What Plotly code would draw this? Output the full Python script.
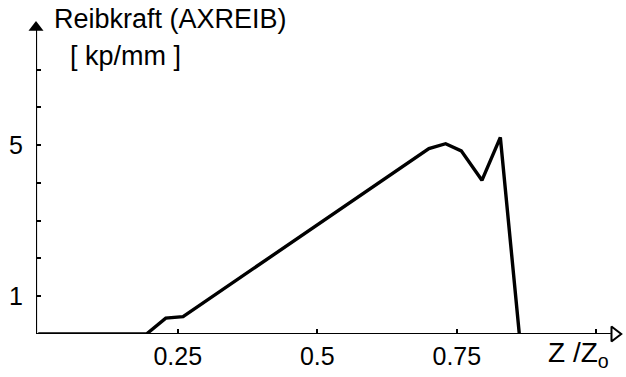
import plotly.graph_objects as go

# Data
z_ratio = [0.0, 0.194, 0.2285, 0.2595, 0.700, 0.730, 0.758, 0.795, 0.828, 0.862]
reibkraft = [0.0, 0.0, 0.42, 0.46, 4.91, 5.04, 4.85, 4.07, 5.21, 0.0]

x_tickvals = [0.25, 0.5, 0.75]
x_ticktext = ["0.25", "0.5", "0.75"]
x_minor_ticks = [0.25, 0.5, 0.75, 1.0]
y_tickvals = [1, 5]
y_ticktext = ["1", "5"]
y_minor_ticks = [1, 2, 3, 4, 5, 6, 7]

FONT = "Liberation Sans"
XMIN, XMAX = -0.004, 1.046
YMIN, YMAX = 0.0, 8.37

fig = go.Figure()
fig.add_trace(go.Scatter(
    x=z_ratio, y=reibkraft, mode="lines",
    line=dict(color="black", width=3.4), hoverinfo="skip", showlegend=False,
))

# Axis arrowheads
fig.add_trace(go.Scatter(
    x=[XMIN], y=[YMAX - 0.25], mode="markers", cliponaxis=False,
    marker=dict(symbol="triangle-up", size=13, color="black"),
    hoverinfo="skip", showlegend=False,
))
fig.add_trace(go.Scatter(
    x=[XMAX - 0.013], y=[0], mode="markers", cliponaxis=False,
    marker=dict(symbol="triangle-right", size=13, color="white",
                line=dict(color="black", width=2)),
    hoverinfo="skip", showlegend=False,
))

fig.update_layout(
    width=626, height=377,
    margin=dict(l=36, r=4, t=18, b=43),
    paper_bgcolor="white", plot_bgcolor="white",
    font=dict(family=FONT, color="black", size=25),
    xaxis=dict(
        range=[XMIN, XMAX], showgrid=False, zeroline=False,
        showline=False, ticks="inside", ticklen=5, tickwidth=1.5, tickcolor="black",
        tickvals=x_tickvals, ticktext=x_ticktext, ticklabelstandoff=5,
        tickfont=dict(size=25, family=FONT),
        minor=dict(tickvals=x_minor_ticks, ticks="inside", ticklen=5, tickwidth=1.5,
                   tickcolor="black", showgrid=False),
    ),
    yaxis=dict(
        range=[YMIN, YMAX], showgrid=False, zeroline=False,
        showline=False, ticks="inside", ticklen=5, tickwidth=1.5, tickcolor="black",
        tickvals=y_tickvals, ticktext=y_ticktext, ticklabelstandoff=12,
        tickfont=dict(size=25, family=FONT),
        minor=dict(tickvals=y_minor_ticks, ticks="inside", ticklen=5, tickwidth=1.5,
                   tickcolor="black", showgrid=False),
    ),
)

# Axes lines
fig.add_shape(type="line", xref="x", yref="y", x0=XMIN, y0=0, x1=XMAX - 0.02, y1=0,
              line=dict(color="black", width=2.2), layer="below")
fig.add_shape(type="line", xref="x", yref="y", x0=XMIN, y0=0, x1=XMIN, y1=YMAX - 0.25,
              line=dict(color="black", width=2.2), layer="below")

# Labels
fig.add_annotation(x=0.027, y=1.05, xref="paper", yref="paper", xanchor="left", yanchor="top",
                   text="Reibkraft (AXREIB)", showarrow=False, font=dict(size=27, family=FONT))
fig.add_annotation(x=0.055, y=0.935, xref="paper", yref="paper", xanchor="left", yanchor="top",
                   text="[ kp/mm ]", showarrow=False, font=dict(size=27, family=FONT))
fig.add_annotation(x=0.870, y=-0.065, xref="paper", yref="paper", xanchor="left", yanchor="middle",
                   text="Z /Z<sub>o</sub>", showarrow=False, font=dict(size=28, family=FONT))

fig.write_html("out.html")
